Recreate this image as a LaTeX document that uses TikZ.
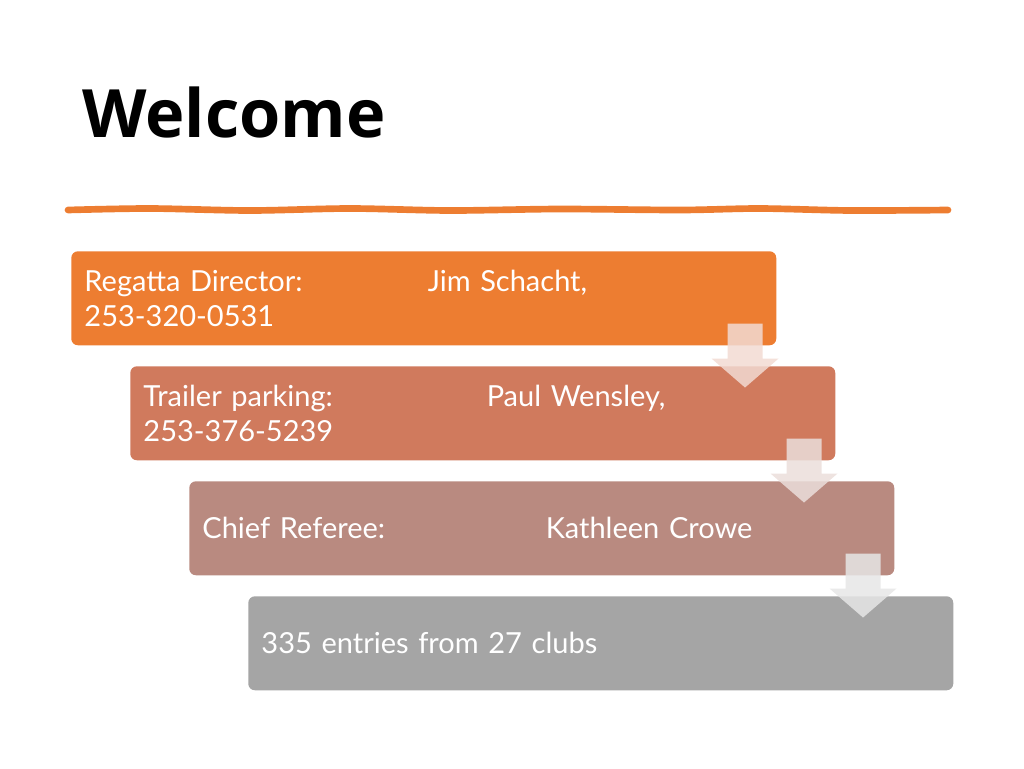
\documentclass[tikz,border=0pt]{standalone}
\usepackage{fontspec}
\setmainfont{Lato}
\newfontfamily\titlefont{Open Sans}
\usetikzlibrary{calc}

\definecolor{accent}{RGB}{237,125,49}
\definecolor{steptwo}{RGB}{208,122,93}
\definecolor{stepthree}{RGB}{185,138,128}
\definecolor{stepfour}{RGB}{165,165,165}

\tikzset{
  stepbox/.style={rectangle, rounded corners=5pt, anchor=north west,
    minimum width=528.75pt, minimum height=70.5pt, inner xsep=9.5pt,
    text=white, align=left, text width=509pt,
    font=\fontsize{21.75pt}{26.5pt}\selectfont},
  downarrow/.style={fill=#1!28, fill opacity=0.85}
}

% arrow from the corner of one box into the next
\newcommand\flowarrow[3]{%
  \fill[downarrow=#3] ($(#1.south east)+(-49,-22)$) -- ($(#1.south east)+(-14,-22)$)
    -- ($(#1.south east)+(-14,13)$) -- ($(#1.south east)+(2,13)$)
    -- ($(#1.south east)+(-31.5,42)$) -- ($(#1.south east)+(-65,13)$)
    -- ($(#1.south east)+(-49,13)$) -- cycle;}

\newcommand\tabto[1]{\makebox[257.5pt][l]{#1}}

\begin{document}
\begin{tikzpicture}[x=0.75pt, y=-0.75pt] %one unit = one pixel, y going down
\useasboundingbox (0,0) rectangle (1024,768);

\node[anchor=base west, inner sep=0pt, font=\titlefont\bfseries\fontsize{50pt}{60pt}\selectfont] (title) at (82,137) {Welcome};

%hand drawn rule under the title
\draw[accent, line width=5pt, line cap=round] plot[smooth] coordinates
  {(68,210) (150,208.5) (250,210.5) (350,208.5) (450,210.5) (560,209) (680,210) (760,208.5) (850,210.5) (948,210)};

\node[stepbox, fill=accent] (director) at (71,251) {\tabto{Regatta Director:}Jim Schacht,\\253-320-0531};
\node[stepbox, fill=steptwo] (parking) at (130,366) {\tabto{Trailer parking:}Paul Wensley,\\253-376-5239};
\node[stepbox, fill=stepthree] (referee) at (189,481) {\tabto{Chief Referee:}Kathleen Crowe};
\node[stepbox, fill=stepfour] (entries) at (248,596) {335 entries from 27 clubs};

\flowarrow{director}{parking}{steptwo}
\flowarrow{parking}{referee}{stepthree}
\flowarrow{referee}{entries}{stepfour}
\end{tikzpicture}
\end{document}
